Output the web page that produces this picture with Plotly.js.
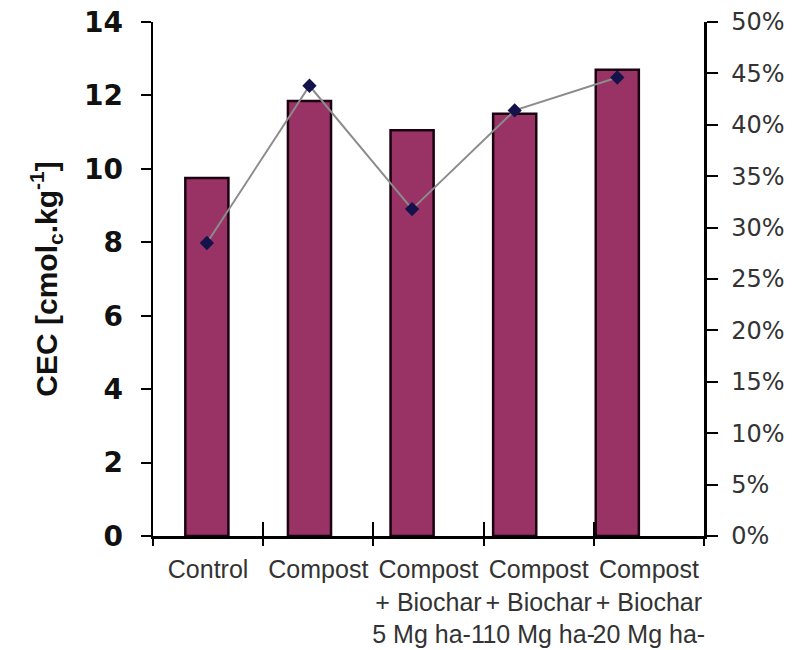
<!DOCTYPE html>
<html>
<head>
<meta charset="utf-8">
<script src="https://cdn.plot.ly/plotly-3.0.1.min.js"></script>
<style>html,body{margin:0;padding:0;background:#fff;}#chart{width:799px;height:650px;}</style>
</head>
<body>
<div id="chart"></div>
<script>
// Data
var categories = [
  "Control",
  "Compost",
  "Compost<br>+ Biochar<br>5 Mg ha-1",
  "Compost<br>+ Biochar<br>10 Mg ha-",
  "Compost<br>+ Biochar<br>20 Mg ha-"
];
var positions = [0, 1, 2, 3, 4];
var boundaries = [-0.5, 0.5, 1.5, 2.5, 3.5, 4.5];
var cecValues = [9.75, 11.85, 11.05, 11.5, 12.7];      // left axis, cmolc kg-1
var percentValues = [0.285, 0.438, 0.318, 0.414, 0.446]; // right axis
var leftTicks = [0, 2, 4, 6, 8, 10, 12, 14];
var rightTicks = [0, 0.05, 0.1, 0.15, 0.2, 0.25, 0.3, 0.35, 0.4, 0.45, 0.5];

var hidden = {marker: {opacity: 0}, hoverinfo: "skip", showlegend: false, mode: "markers", type: "scatter"};
function ghost(xa, ya, xs, ys) {
  return Object.assign({}, hidden, {x: xs, y: ys, xaxis: xa, yaxis: ya});
}

var traces = [
  {
    type: "bar", x: positions, y: cecValues, xaxis: "x", yaxis: "y",
    width: 0.42,
    marker: {color: "#993366", line: {color: "#1a0010", width: 2.5}},
    hoverinfo: "skip", showlegend: false
  },
  {
    type: "scatter", mode: "lines+markers", x: positions, y: percentValues,
    xaxis: "x", yaxis: "y2",
    line: {color: "#8c8c8c", width: 2},
    marker: {symbol: "diamond", size: 11, color: "#14124a"},
    hoverinfo: "skip", showlegend: false
  },
  ghost("x3", "y", positions, cecValues),
  ghost("x4", "y", positions, cecValues),
  ghost("x5", "y", positions, cecValues)
];

var axLine = {showline: true, linecolor: "#000", linewidth: 2.5, showgrid: false, zeroline: false};

var layout = {
  width: 799, height: 650,
  margin: {l: 153, r: 95, t: 22, b: 114},
  paper_bgcolor: "#ffffff", plot_bgcolor: "#ffffff",
  showlegend: false,
  xaxis: {
    range: [-0.525, 4.845], showgrid: false, zeroline: false,
    showticklabels: false, ticks: "", showline: false
  },
  // tick marks at category boundaries: inside part
  xaxis3: Object.assign({
    overlaying: "x", anchor: "y", side: "bottom",
    range: [-0.5, 4.5], tickvals: boundaries,
    ticks: "inside", ticklen: 14, tickwidth: 2, tickcolor: "#000",
    showticklabels: false
  }, axLine),
  // outside part
  xaxis5: Object.assign({
    overlaying: "x", anchor: "y", side: "bottom",
    range: [-0.5, 4.5], tickvals: boundaries,
    ticks: "outside", ticklen: 7, tickwidth: 2, tickcolor: "#000",
    showticklabels: false
  }, axLine),
  // category labels
  xaxis4: {
    overlaying: "x", anchor: "y", side: "bottom",
    range: [-0.5, 4.5], tickvals: positions, ticktext: categories,
    ticks: "", tickangle: 0, showline: false, showgrid: false, zeroline: false,
    tickfont: {family: "Liberation Sans Narrow, Arial Narrow, Liberation Sans, Arial", size: 25, color: "#333"},
    ticklabelstandoff: 16
  },
  yaxis: Object.assign({
    range: [0, 14], tickvals: leftTicks, side: "left",
    ticks: "outside", ticklen: 10, tickwidth: 2, tickcolor: "#000",
    tickfont: {family: "DejaVu Sans", size: 28, color: "#111", weight: "bold"},
    ticklabelstandoff: 12,
    title: {
      text: "CEC [cmol<sub>c</sub>.kg<sup>-1</sup>]",
      font: {family: "Liberation Sans, Arial", size: 30, color: "#111", weight: "bold"},
      standoff: 18
    }
  }, axLine),
  yaxis2: Object.assign({
    range: [0, 0.5], tickvals: rightTicks, tickformat: ".0%",
    overlaying: "y", side: "right", anchor: "x",
    ticks: "outside", ticklen: 11, tickwidth: 2, tickcolor: "#000",
    tickfont: {family: "DejaVu Sans", size: 24, color: "#333"},
    ticklabelstandoff: 9
  }, axLine)
};

Plotly.newPlot("chart", traces, layout, {displayModeBar: false, staticPlot: true});
</script>
</body>
</html>
